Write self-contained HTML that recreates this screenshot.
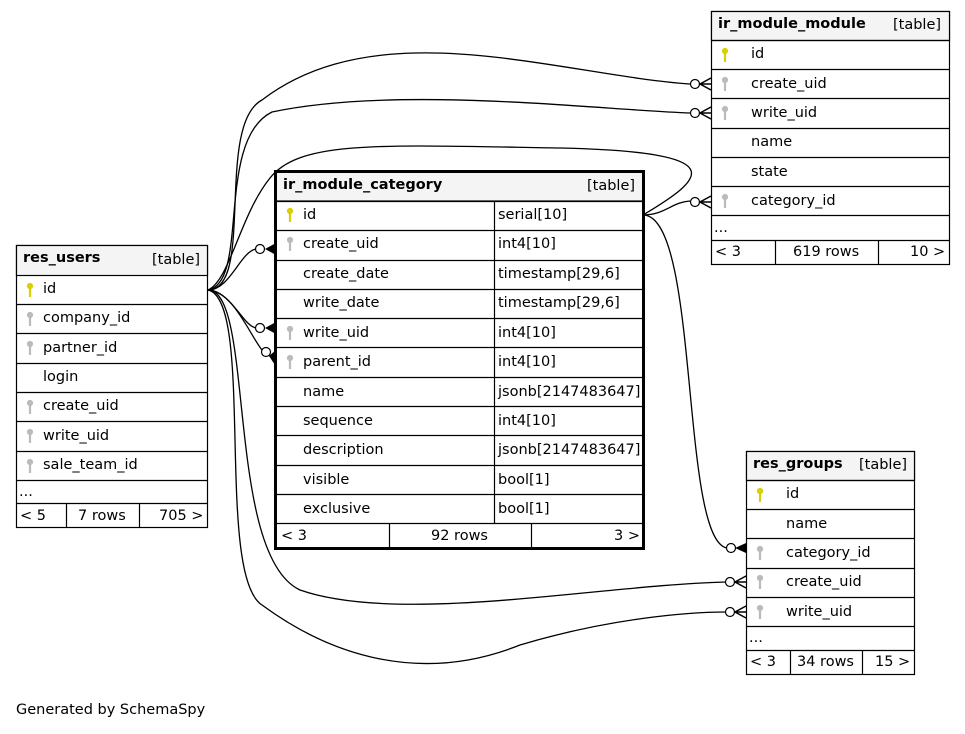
<!DOCTYPE html>
<html><head><meta charset="utf-8"><style>
body{margin:0;background:#fff;width:965px;height:729px;overflow:hidden}
svg text{font-family:"DejaVu Sans","Liberation Sans",sans-serif;font-size:14.5px;fill:#000}
</style></head><body>
<svg width="965" height="729" viewBox="0 0 965 729" xmlns="http://www.w3.org/2000/svg">
<defs>
<g id="pk"><circle cx="0" cy="-4" r="2.4" fill="#d8d000" stroke="#d8d000" stroke-width="1.4"/><line x1="0" y1="-1.5" x2="0" y2="7" stroke="#d8d000" stroke-width="2.2"/></g>
<g id="fk"><circle cx="0" cy="-4" r="2.4" fill="#bbb" stroke="#bbb" stroke-width="1.4"/><line x1="0" y1="-1.5" x2="0" y2="7" stroke="#bbb" stroke-width="2.2"/></g>
</defs>
<g fill="none" stroke="#000" stroke-width="1.3">
<path d="M208,290 C 255,290 215,125 262,100 C 380,10 560,75 690,84"/>
<path d="M208,290 C 250,282 215,140 272,112 C 400,85 600,110 690,113"/>
<path d="M643,215 C 665,215 672,202 690,201"/>
<path d="M643,215 C 705,178 735,152 560,148 C 380,145 300,140 270,178 C 240,215 230,280 208,290"/>
<path d="M208,290 C 230,290 240,252 256,249"/>
<path d="M208,290 C 232,292 242,325 256,328"/>
<path d="M208,290 C 232,290 250,335 262,350"/>
<path d="M643,215 C 700,215 680,540 727,548"/>
<path d="M208,290 C 255,290 225,555 300,590 C 400,625 600,585 726,582"/>
<path d="M208,290 C 255,300 215,575 262,605 C 330,655 420,685 520,645 C 610,618 690,612 726,612"/>
</g>
<g fill="#fff" stroke="#000" stroke-width="1.2">
<circle cx="695" cy="84" r="4.5"/><circle cx="695" cy="113" r="4.5"/><circle cx="695" cy="202" r="4.5"/>
<circle cx="260" cy="249" r="4.5"/><circle cx="260" cy="328" r="4.5"/><circle cx="266" cy="352" r="4.5"/>
<circle cx="731" cy="548" r="4.5"/><circle cx="730" cy="582" r="4.5"/><circle cx="730" cy="612" r="4.5"/>
</g>
<g stroke="#000" stroke-width="1.5" fill="none">
<path d="M711,78 L700,84 L711,90 M700,84 L711,84"/>
<path d="M711,107 L700,113 L711,119 M700,113 L711,113"/>
<path d="M711,196 L700,202 L711,208 M700,202 L711,202"/>
<path d="M746,576 L735,582 L746,588 M735,582 L746,582"/>
<path d="M746,606 L735,612 L746,618 M735,612 L746,612"/>
</g>
<g fill="#000">
<path d="M265,249 L276,243 L276,255 Z"/><path d="M265,328 L276,322 L276,334 Z"/>
<path d="M269,356 L276,350 L277,368 Z"/><path d="M735,548 L746,543 L746,553 Z"/>
</g>

<!-- res_users -->
<g stroke="#000" stroke-width="1.2" fill="none">
<rect x="16.5" y="245.5" width="191" height="282" fill="#fff"/>
<rect x="16.5" y="245.5" width="191" height="30" fill="#f4f4f4"/>
<path d="M16,304.5H208M16,333.5H208M16,363.5H208M16,392.5H208M16,421.5H208M16,451.5H208M16,480.5H208M16,503.5H208M66.5,504V527M139.5,504V527"/>
</g>
<text x="23" y="262" font-weight="bold">res_users</text><text x="152" y="264">[table]</text>
<use href="#pk" x="30" y="290"/><text x="43" y="293">id</text>
<use href="#fk" x="30" y="319"/><text x="43" y="322">company_id</text>
<use href="#fk" x="30" y="348"/><text x="43" y="352">partner_id</text>
<text x="43" y="381">login</text>
<use href="#fk" x="30" y="407"/><text x="43" y="410">create_uid</text>
<use href="#fk" x="30" y="436"/><text x="43" y="440">write_uid</text>
<use href="#fk" x="30" y="466"/><text x="43" y="469">sale_team_id</text>
<text x="19" y="496">...</text>
<text x="20" y="520">&lt; 5</text><text x="78" y="520">7 rows</text><text x="159" y="520">705 &gt;</text>

<!-- ir_module_category -->
<g stroke="#000" stroke-width="1.2" fill="none">
<rect x="276" y="172" width="367" height="376" fill="#fff"/>
<rect x="276" y="172" width="367" height="29" fill="#f4f4f4"/>
<path d="M276,201.5H643M276,230.5H643M276,260.5H643M276,289.5H643M276,318.5H643M276,347.5H643M276,377.5H643M276,406.5H643M276,435.5H643M276,465.5H643M276,494.5H643M276,523.5H643M494.5,201V523M389.5,523V548M531.5,523V548"/>
</g>
<rect x="275.5" y="171.5" width="368" height="377" fill="none" stroke="#000" stroke-width="3"/>
<text x="283" y="189" font-weight="bold">ir_module_category</text><text x="587" y="190">[table]</text>
<use href="#pk" x="290" y="215"/><text x="303" y="219">id</text><text x="498" y="219">serial[10]</text>
<use href="#fk" x="290" y="244"/><text x="303" y="248">create_uid</text><text x="498" y="248">int4[10]</text>
<text x="303" y="278">create_date</text><text x="498" y="278">timestamp[29,6]</text>
<text x="303" y="307">write_date</text><text x="498" y="307">timestamp[29,6]</text>
<use href="#fk" x="290" y="333"/><text x="303" y="337">write_uid</text><text x="498" y="337">int4[10]</text>
<use href="#fk" x="290" y="362"/><text x="303" y="366">parent_id</text><text x="498" y="366">int4[10]</text>
<text x="303" y="396">name</text><text x="498" y="396">jsonb[2147483647]</text>
<text x="303" y="425">sequence</text><text x="498" y="425">int4[10]</text>
<text x="303" y="454">description</text><text x="498" y="454">jsonb[2147483647]</text>
<text x="303" y="484">visible</text><text x="498" y="484">bool[1]</text>
<text x="303" y="513">exclusive</text><text x="498" y="513">bool[1]</text>
<text x="281" y="540">&lt; 3</text><text x="431" y="540">92 rows</text><text x="614" y="540">3 &gt;</text>

<!-- ir_module_module -->
<g stroke="#000" stroke-width="1.2" fill="none">
<rect x="711.5" y="11.5" width="238" height="253" fill="#fff"/>
<rect x="711.5" y="11.5" width="238" height="29" fill="#f4f4f4"/>
<path d="M711,40.5H950M711,69.5H950M711,98.5H950M711,128.5H950M711,157.5H950M711,186.5H950M711,215.5H950M711,240.5H950M775.5,240V264M878.5,240V264"/>
</g>
<text x="718" y="28" font-weight="bold">ir_module_module</text><text x="893" y="29">[table]</text>
<use href="#pk" x="725" y="55"/><text x="751" y="58">id</text>
<use href="#fk" x="725" y="84"/><text x="751" y="88">create_uid</text>
<use href="#fk" x="725" y="113"/><text x="751" y="117">write_uid</text>
<text x="751" y="146">name</text>
<text x="751" y="176">state</text>
<use href="#fk" x="725" y="201"/><text x="751" y="205">category_id</text>
<text x="714" y="232">...</text>
<text x="715" y="256">&lt; 3</text><text x="793" y="256">619 rows</text><text x="910" y="256">10 &gt;</text>

<!-- res_groups -->
<g stroke="#000" stroke-width="1.2" fill="none">
<rect x="746.5" y="451.5" width="168" height="223" fill="#fff"/>
<rect x="746.5" y="451.5" width="168" height="29" fill="#f4f4f4"/>
<path d="M746,480.5H915M746,509.5H915M746,538.5H915M746,568.5H915M746,597.5H915M746,626.5H915M746,650.5H915M790.5,650V674M862.5,650V674"/>
</g>
<text x="753" y="468" font-weight="bold">res_groups</text><text x="859" y="469">[table]</text>
<use href="#pk" x="760" y="495"/><text x="786" y="498">id</text>
<text x="786" y="528">name</text>
<use href="#fk" x="760" y="553"/><text x="786" y="557">category_id</text>
<use href="#fk" x="760" y="582"/><text x="786" y="586">create_uid</text>
<use href="#fk" x="760" y="612"/><text x="786" y="616">write_uid</text>
<text x="749" y="642">...</text>
<text x="750" y="666">&lt; 3</text><text x="797" y="666">34 rows</text><text x="875" y="666">15 &gt;</text>

<text x="16" y="714">Generated by SchemaSpy</text>
</svg>
</body></html>
